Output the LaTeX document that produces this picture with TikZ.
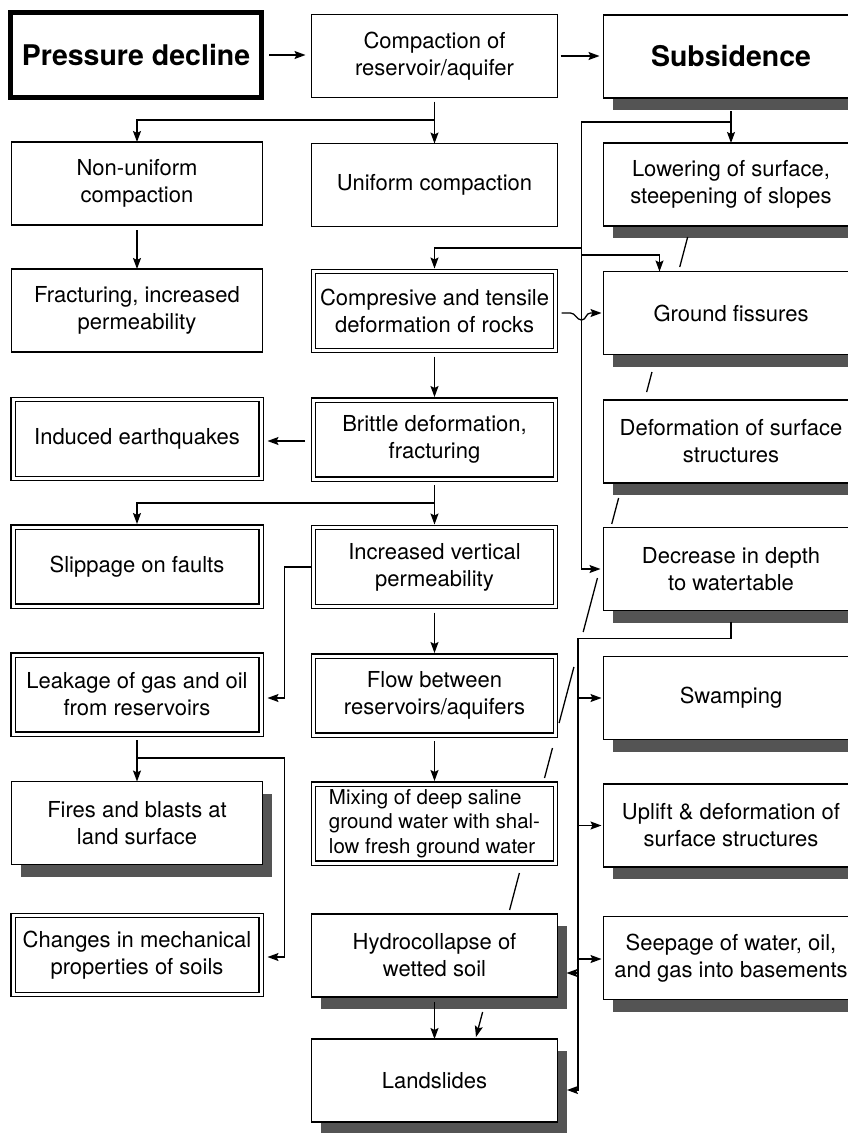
\documentclass[tikz,border=0pt]{standalone}
\usepackage{fontspec}
\setmainfont{TeX Gyre Heros}
\usetikzlibrary{arrows.meta,calc,shadows}
\definecolor{shadowc}{gray}{0.33}
\newcommand\boxfont{\fontsize{22}{27}\selectfont}
\newcommand\bigfont{\fontsize{28.5}{34}\selectfont\bfseries}
\newcommand\mixfont{\fontsize{20.5}{24.5}\selectfont}
\begin{document}
\begin{tikzpicture}[x=1pt,y=-1pt,
  box/.style={draw, line width=1.4pt, fill=white, inner sep=0pt, outer sep=0pt, align=center, font=\boxfont},
  dbox/.style={box, double, double distance=3pt, line width=1.1pt},
  sbox/.style={box, general shadow={fill=shadowc, shadow xshift=9pt, shadow yshift=-12pt}},
  thickbox/.style={box, line width=5pt, font=\bigfont},
  colL/.style={minimum width=251pt, minimum height=83pt},
  colLD/.style={minimum width=248pt, minimum height=79pt},
  colM/.style={minimum width=246pt, minimum height=83pt},
  colMD/.style={minimum width=242pt, minimum height=79pt},
  colR/.style={minimum width=255pt, minimum height=83pt},
  link/.style={line width=1.3pt},
  arr/.style={link, -{Stealth[length=11pt,width=8pt,inset=2pt]}},
]
\useasboundingbox (0,0) rectangle (848,1133);

% row 1
\node[thickbox, minimum width=251pt, minimum height=85pt] (pd) at (136,55) {Pressure decline};
\node[box, colM] (cp) at (434.5,56) {Compaction of\\reservoir/aquifer};
\node[sbox, colR, font=\bigfont] (sb) at (731,56.5) {Subsidence};
% row 2
\node[box, colL] (nu) at (137,183.5) {Non-uniform\\compaction};
\node[box, colM] (uc) at (434.5,185) {Uniform compaction};
\node[sbox, colR] (lw) at (731,184.5) {Lowering of surface,\\steepening of slopes};
% row 3
\node[box, colL] (fr) at (137,310.5) {Fracturing, increased\\permeability};
\node[dbox, colMD] (ct) at (434.5,311) {Compresive and tensile\\deformation of rocks};
\node[sbox, colR] (gf) at (731,313) {Ground fissures};
% row 4
\node[dbox, colLD] (ie) at (137,439) {Induced earthquakes};
\node[dbox, colMD] (bd) at (434.5,439.5) {Brittle deformation,\\fracturing};
\node[sbox, colR] (ds) at (731,441.5) {Deformation of surface\\structures};
% row 5
\node[dbox, colLD] (sl) at (137,566.5) {Slippage on faults};
\node[dbox, colMD] (iv) at (434.5,567) {Increased vertical\\permeability};
\node[sbox, colR] (dd) at (731,569) {Decrease in depth\\to watertable};
% row 6
\node[dbox, colLD] (lk) at (137,694.5) {Leakage of gas and oil\\from reservoirs};
\node[dbox, colMD] (fb) at (434.5,695.5) {Flow between\\reservoirs/aquifers};
\node[sbox, colR] (sw) at (731,698) {Swamping};
% row 7
\node[sbox, colL] (fi) at (137,823) {Fires and blasts at\\land surface};
\node[dbox, colMD, align=left, font=\mixfont] (mx) at (434.5,823.5) {Mixing of deep saline\\ground water with shal-\\low fresh ground water};
\node[sbox, colR] (up) at (731,825.5) {Uplift \& deformation of\\surface structures};
% row 8
\node[dbox, colLD] (ch) at (137,955) {Changes in mechanical\\properties of soils};
\node[sbox, colM] (hc) at (434.5,955.5) {Hydrocollapse of\\wetted soil};
\node[sbox, colR] (se) at (731,958) {Seepage of water, oil,\\and gas into basements};
% row 9
\node[sbox, colM] (ls) at (434.5,1080.5) {Landslides};

% connectors, top
\draw[arr] ($(pd.east)+(7.5,0)$) -- ($(cp.west |- pd.east)+(-6,0)$);
\draw[arr] ($(cp.east)+(3,0)$) -- ($(sb.west |- cp.east)+(-4,0)$);
\draw[arr] ($(cp.south)+(0,4)$) -- (uc.north);
\draw[arr] ($(cp.south)+(0,22.5)$) -| (nu.north);
\draw[arr] ($(nu.south)+(0,5)$) -- (fr.north);
\draw[arr] ($(sb.south)+(0,13)$) -- (lw.north);
\coordinate (bus) at ($(dd.west)+(-22,0)$);
\draw[arr] ($(sb.south)+(0,24)$) -| (bus) -- ($(dd.west)+(-3,0)$);
\draw[arr] (bus |- 0,248) -| ($(ct.north)+(0,-3)$);
\draw[arr] (bus |- 0,255) -| ($(gf.north west)+(56,0)$);
% hop over the bus
\draw[arr] ($(ct.east)+(6,2)$) -- ($(bus |- ct.east)+(-11,2)$)
  .. controls +(5,0) and +(-5,0) .. ($(bus |- ct.east)+(0,9)$)
  .. controls +(5,0) and +(-5,0) .. ($(bus |- ct.east)+(9,2)$)
  -- ($(gf.west)+(-2,0)$);
% middle column
\draw[arr] ($(ct.south)+(0,6)$) -- ($(bd.north)+(0,-3)$);
\draw[arr] ($(bd.west)+(-8.5,1.5)$) -- ($(ie.east |- bd.west)+(6.5,1.5)$);
\draw[arr] ($(bd.south)+(0,6)$) -- ($(iv.north)+(0,-3)$);
\draw[arr] ($(bd.south)+(0,24)$) -| ($(sl.north)+(0,-3)$);
\draw[arr] ($(iv.west)+(-3,0)$) -| ($(lk.east)+(23.5,3.5)$) -- ($(lk.east)+(6.5,3.5)$);
\draw[arr] ($(iv.south)+(0,6)$) -- ($(fb.north)+(0,-3)$);
\draw[arr] ($(fb.south)+(0,6)$) -- ($(mx.north)+(0,-3)$);
% left column lower
\draw[arr] ($(lk.south)+(0,6)$) -- (fi.north);
\draw[arr] ($(lk.south)+(0,24)$) -| ($(ch.east)+(23.5,2)$) -- ($(ch.east)+(6.5,2)$);
% lower bus
\coordinate (bus2) at ($(ls.east)+(20.5,0)$);
\draw[arr] ($(dd.south)+(0,11)$) -- ($(dd.south)+(0,28)$) -| ($(bus2)+(0,9.5)$) -- ($(ls.east)+(9.5,9.5)$);
\draw[arr] (bus2 |- sw.west) -- ($(sw.west)+(-2,0)$);
\draw[arr] (bus2 |- up.west) -- ($(up.west)+(-2,0)$);
\draw[arr] ($(bus2 |- se.west)+(0,1)$) -- ($(se.west)+(-2,1)$);
\draw[arr] ($(bus2 |- hc.east)+(0,17.5)$) -- ($(hc.east)+(9,17.5)$);
\draw[arr] ($(hc.south)+(0,5)$) -- (ls.north);
% long diagonal influence line
\coordinate (d1) at (689,232);
\coordinate (d2) at (476,1037);
\foreach \a/\b in {0.0062/0.0435, 0.1739/0.1988, 0.3304/0.3627, 0.4298/0.4969, 0.5404/0.6099, 0.6410/0.6783, 0.7963/0.8422}
  \draw[link] ($(d1)!\a!(d2)$) -- ($(d1)!\b!(d2)$);
\draw[arr] ($(d1)!0.9689!(d2)$) -- (d2);
\end{tikzpicture}
\end{document}
